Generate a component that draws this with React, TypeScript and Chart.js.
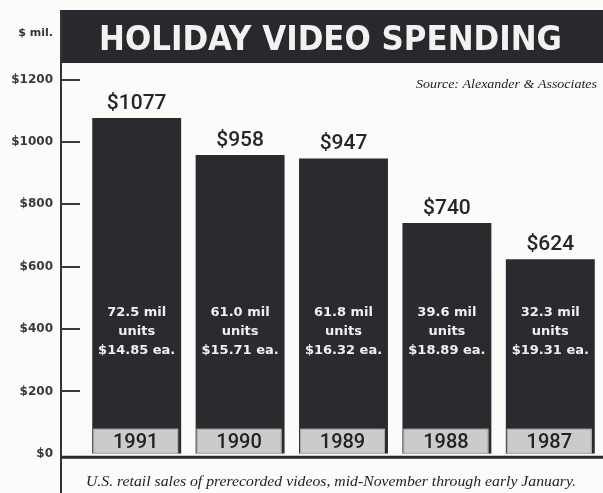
import React, { useEffect, useRef } from 'react';
import { Chart, registerables } from 'chart.js';

Chart.register(...registerables);

const years = ['1991', '1990', '1989', '1988', '1987'];
const spending = [1077, 958, 947, 740, 624];
const unitsMil = ['72.5', '61.0', '61.8', '39.6', '32.3'];
const pricesEach = ['14.85', '15.71', '16.32', '18.89', '19.31'];
const yTicks = [0, 200, 400, 600, 800, 1000, 1200];
const titleText = 'HOLIDAY VIDEO SPENDING';
const unitLabel = '$ mil.';
const sourceText = 'Source: Alexander & Associates';
const footerText = 'U.S. retail sales of prerecorded videos, mid-November through early January.';

const SERIF = '"Liberation Serif", "Times New Roman", Times, serif';

function fitText(ctx: CanvasRenderingContext2D, text: string, x: number, y: number, targetW: number, align: 'left' | 'center' | 'right') {
  const w = ctx.measureText(text).width;
  const sx = targetW / w;
  ctx.save();
  ctx.translate(x, y);
  ctx.scale(sx, 1);
  ctx.textAlign = align;
  ctx.fillText(text, 0, 0);
  ctx.restore();
}

const decor = {
  id: 'decor',
  beforeDraw(chart: any) {
    const { ctx, width, height } = chart;
    ctx.save();
    ctx.fillStyle = '#fbfbf9';
    ctx.fillRect(0, 0, width, height);

    // banner
    ctx.fillStyle = '#29292d';
    ctx.fillRect(60, 10, width - 60, 53);
    ctx.fillStyle = '#f2f2f2';
    ctx.textBaseline = 'alphabetic';
    ctx.font = 'bold 34px "DejaVu Sans"';
    fitText(ctx, titleText, 330.5, 50, 463, 'center');

    // unit label
    ctx.fillStyle = '#333';
    ctx.font = 'bold 11px "DejaVu Sans"';
    ctx.textAlign = 'right';
    ctx.textBaseline = 'middle';
    ctx.fillText(unitLabel, 53, 33);

    // source
    ctx.fillStyle = '#222';
    ctx.textBaseline = 'alphabetic';
    ctx.font = 'italic 13px ' + SERIF;
    fitText(ctx, sourceText, 597, 88, 181, 'right');

    // left axis line
    ctx.strokeStyle = '#333';
    ctx.lineWidth = 2;
    ctx.beginPath();
    ctx.moveTo(61, 10);
    ctx.lineTo(61, height);
    ctx.stroke();

    // tick marks
    const ys = chart.scales.y;
    ctx.lineWidth = 2;
    ctx.strokeStyle = '#3a3a3a';
    ys.ticks.forEach((t: any) => {
      if (t.value === 0) return;
      const py = Math.round(ys.getPixelForValue(t.value));
      ctx.beginPath();
      ctx.moveTo(62, py);
      ctx.lineTo(80, py);
      ctx.stroke();
    });

    // footer line
    const base = ys.getPixelForValue(0);
    ctx.strokeStyle = '#2a2a2a';
    ctx.lineWidth = 3;
    ctx.beginPath();
    ctx.moveTo(61, base + 3.5);
    ctx.lineTo(width, base + 3.5);
    ctx.stroke();

    // footer text
    ctx.fillStyle = '#222';
    ctx.font = 'italic 15px ' + SERIF;
    ctx.textBaseline = 'alphabetic';
    fitText(ctx, footerText, 331, 486, 490, 'center');
    ctx.restore();
  },
  afterDatasetsDraw(chart: any) {
    const { ctx } = chart;
    const meta = chart.getDatasetMeta(0);
    ctx.save();
    meta.data.forEach((bar: any, i: number) => {
      const x = bar.x;
      const top = bar.y;
      const base = bar.base;
      const w = bar.width;
      // value above
      ctx.fillStyle = '#262626';
      ctx.font = '500 21px Roboto';
      ctx.textAlign = 'center';
      ctx.textBaseline = 'alphabetic';
      ctx.fillText('$' + spending[i], x, top - 9);

      // inner labels
      ctx.fillStyle = '#f0f0f0';
      ctx.font = 'bold 13px "DejaVu Sans"';
      ctx.textBaseline = 'middle';
      ctx.fillText(unitsMil[i] + ' mil', x, base - 141);
      ctx.fillText('units', x, base - 122);
      ctx.fillText('$' + pricesEach[i] + ' ea.', x, base - 103);

      // year box
      const bx = x - w / 2 + 1;
      const bw = w - 4;
      ctx.fillStyle = '#cbcbcb';
      ctx.fillRect(bx, base - 25, bw, 25);
      ctx.strokeStyle = '#a8a8a8';
      ctx.lineWidth = 1;
      ctx.strokeRect(bx + 0.5, base - 24.5, bw - 1, 24);
      ctx.fillStyle = '#222';
      ctx.font = '500 20px Roboto';
      ctx.textBaseline = 'middle';
      ctx.fillText(years[i], x - 1, base - 11);
    });
    ctx.restore();
  },
};

export default function App() {
  const ref = useRef<HTMLCanvasElement>(null);
  useEffect(() => {
    if (!ref.current) return;
    const chart = new Chart(ref.current, {
      type: 'bar',
      data: {
        labels: years,
        datasets: [
          {
            data: spending,
            backgroundColor: '#2b2b2f',
            borderWidth: 0,
            barPercentage: 0.86,
            categoryPercentage: 1,
          },
        ],
      },
      options: {
        responsive: false,
        animation: false,
        layout: { padding: { top: 64, bottom: 30, left: 0, right: 1 } },
        plugins: {
          legend: { display: false },
          tooltip: { enabled: false },
          title: { display: false },
        },
        scales: {
          x: { display: false, offset: true, grid: { display: false } },
          y: {
            min: 0,
            max: 1250,
            position: 'left',
            afterBuildTicks: (s: any) => {
              s.ticks = yTicks.map((v) => ({ value: v }));
            },
            afterFit: (s: any) => {
              s.width = 85;
            },
            grid: { display: false, drawTicks: false },
            border: { display: false },
            ticks: {
              padding: 32,
              color: '#3a3a3a',
              font: { family: '"DejaVu Sans"', weight: 'bold', size: 12 },
              callback: (v: any) => '$' + v,
            },
          },
        },
      },
      plugins: [decor],
    } as any);
    return () => chart.destroy();
  }, []);
  return (
    <div style={{ position: 'fixed', left: 0, top: 0, width: 603, height: 493 }}>
      <canvas ref={ref} width={603} height={493} />
    </div>
  );
}
